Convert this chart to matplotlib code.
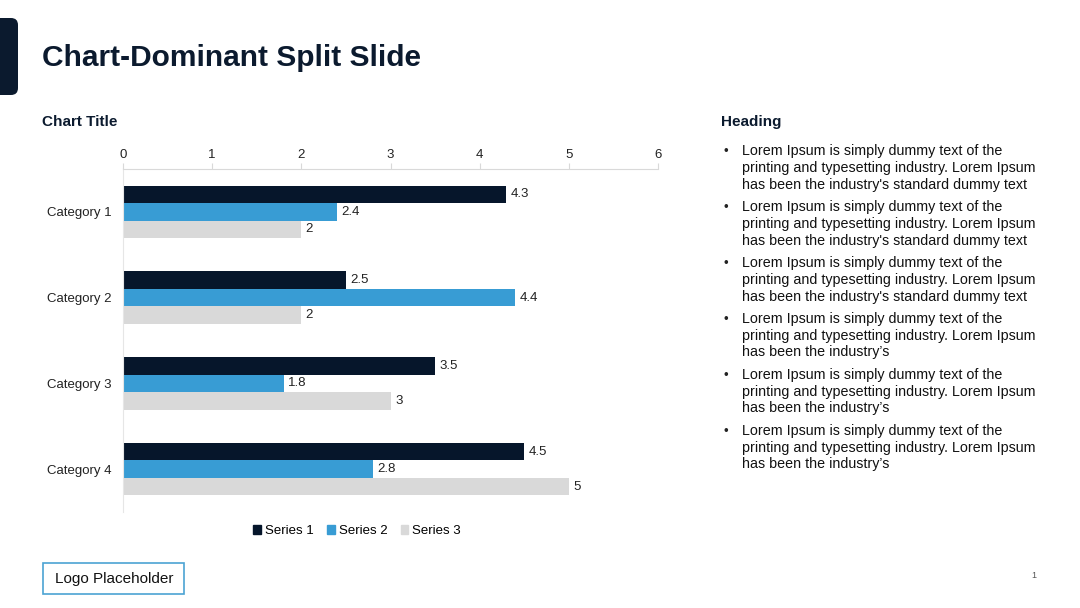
import numpy as np
import matplotlib
matplotlib.use('Agg')
from matplotlib import pyplot as plt
from matplotlib.patches import FancyBboxPatch, Rectangle, Patch

plt.rcParams['font.family'] = ['Liberation Sans', 'DejaVu Sans']

categories = ['Category 1', 'Category 2', 'Category 3', 'Category 4']
series_names = ['Series 1', 'Series 2', 'Series 3']
series_1 = [4.3, 2.5, 3.5, 4.5]
series_2 = [2.4, 4.4, 1.8, 2.8]
series_3 = [2, 2, 3, 5]
x_ticks = [0, 1, 2, 3, 4, 5, 6]
bullet_text = [
    "Lorem Ipsum is simply dummy text of the\nprinting and typesetting industry. Lorem Ipsum\nhas been the industry's standard dummy text",
    "Lorem Ipsum is simply dummy text of the\nprinting and typesetting industry. Lorem Ipsum\nhas been the industry's standard dummy text",
    "Lorem Ipsum is simply dummy text of the\nprinting and typesetting industry. Lorem Ipsum\nhas been the industry's standard dummy text",
    "Lorem Ipsum is simply dummy text of the\nprinting and typesetting industry. Lorem Ipsum\nhas been the industry\u2019s",
    "Lorem Ipsum is simply dummy text of the\nprinting and typesetting industry. Lorem Ipsum\nhas been the industry\u2019s",
    "Lorem Ipsum is simply dummy text of the\nprinting and typesetting industry. Lorem Ipsum\nhas been the industry\u2019s",
]

colors = ['#06162B', '#389CD4', '#D9D9D9']
navy = '#0B1A2E'
W, H = 1080, 608

fig = plt.figure(figsize=(W / 100, H / 100), dpi=100)

# background layer in pixel coordinates (origin top-left)
bg = fig.add_axes([0, 0, 1, 1])
bg.set_xlim(0, W)
bg.set_ylim(H, 0)
bg.axis('off')

# left accent bar
bg.add_patch(FancyBboxPatch((-20, 18), 38, 77, boxstyle='round,pad=0,rounding_size=7',
                            fc=navy, ec='none'))

bg.text(42, 58.5, 'Chart-Dominant Split Slide', fontsize=21.5, fontweight='bold',
        color=navy, va='center', ha='left')
bg.text(42, 122, 'Chart Title', fontsize=11, fontweight='bold',
        color=navy, va='center', ha='left')
bg.text(721, 122, 'Heading', fontsize=11, fontweight='bold',
        color=navy, va='center', ha='left')

# bullets
for i, txt in enumerate(bullet_text):
    y0 = 144.5 + i * 55.9
    bg.text(723, y0 + 7.5, '\u2022', fontsize=9.5, color='#222222', va='center', ha='left')
    bg.text(742, y0, txt, fontsize=10.25, color='#111111', va='top', ha='left',
            linespacing=1.24)

# logo placeholder and page number
bg.add_patch(Rectangle((43, 563), 141, 31, fc='white', ec='#4BA3D3', lw=1.2))
bg.text(114, 578.5, 'Logo Placeholder', fontsize=11, color='#111111',
        va='center', ha='center')
bg.text(1034, 576, '1', fontsize=6.5, color='#555555', va='center', ha='center')

# chart
ax = fig.add_axes([123 / W, 1 - 512 / H, 535 / W, 343 / H])
y = np.arange(len(categories))
h = 0.205
all_series = [series_1, series_2, series_3]
for k, vals in enumerate(all_series):
    pos = y + (k - 1) * h
    ax.barh(pos, vals, height=h, color=colors[k], label=series_names[k])
    for p, v in zip(pos, vals):
        ax.text(v + 0.05, p, f'{v:g}', va='center', ha='left', fontsize=9.5, color='#222222')

ax.set_xlim(0, 6)
ax.set_ylim(3.5, -0.5)
ax.set_xticks(x_ticks)
ax.xaxis.tick_top()
ax.set_yticks(y)
ax.set_yticklabels(categories)
ax.tick_params(axis='x', length=4, color='#D9D9D9', labelsize=9.5, labelcolor='#222222', pad=2)
ax.tick_params(axis='y', length=0, labelsize=9.5, labelcolor='#222222', pad=8)
for s in ['right', 'bottom']:
    ax.spines[s].set_visible(False)
ax.spines['top'].set_color('#D9D9D9')
ax.spines['left'].set_color('#E6E6E6')
ax.spines['top'].set_linewidth(0.8)
ax.spines['left'].set_linewidth(0.8)

handles = [Patch(color=c) for c in colors]
fig.legend(handles, series_names, loc='center', bbox_to_anchor=(357 / W, 1 - 531 / H), ncol=3,
           frameon=False, fontsize=9.5, handlelength=0.6, handleheight=0.6,
           handletextpad=0.3, columnspacing=1.0)

plt.savefig('out.png', dpi=100)
